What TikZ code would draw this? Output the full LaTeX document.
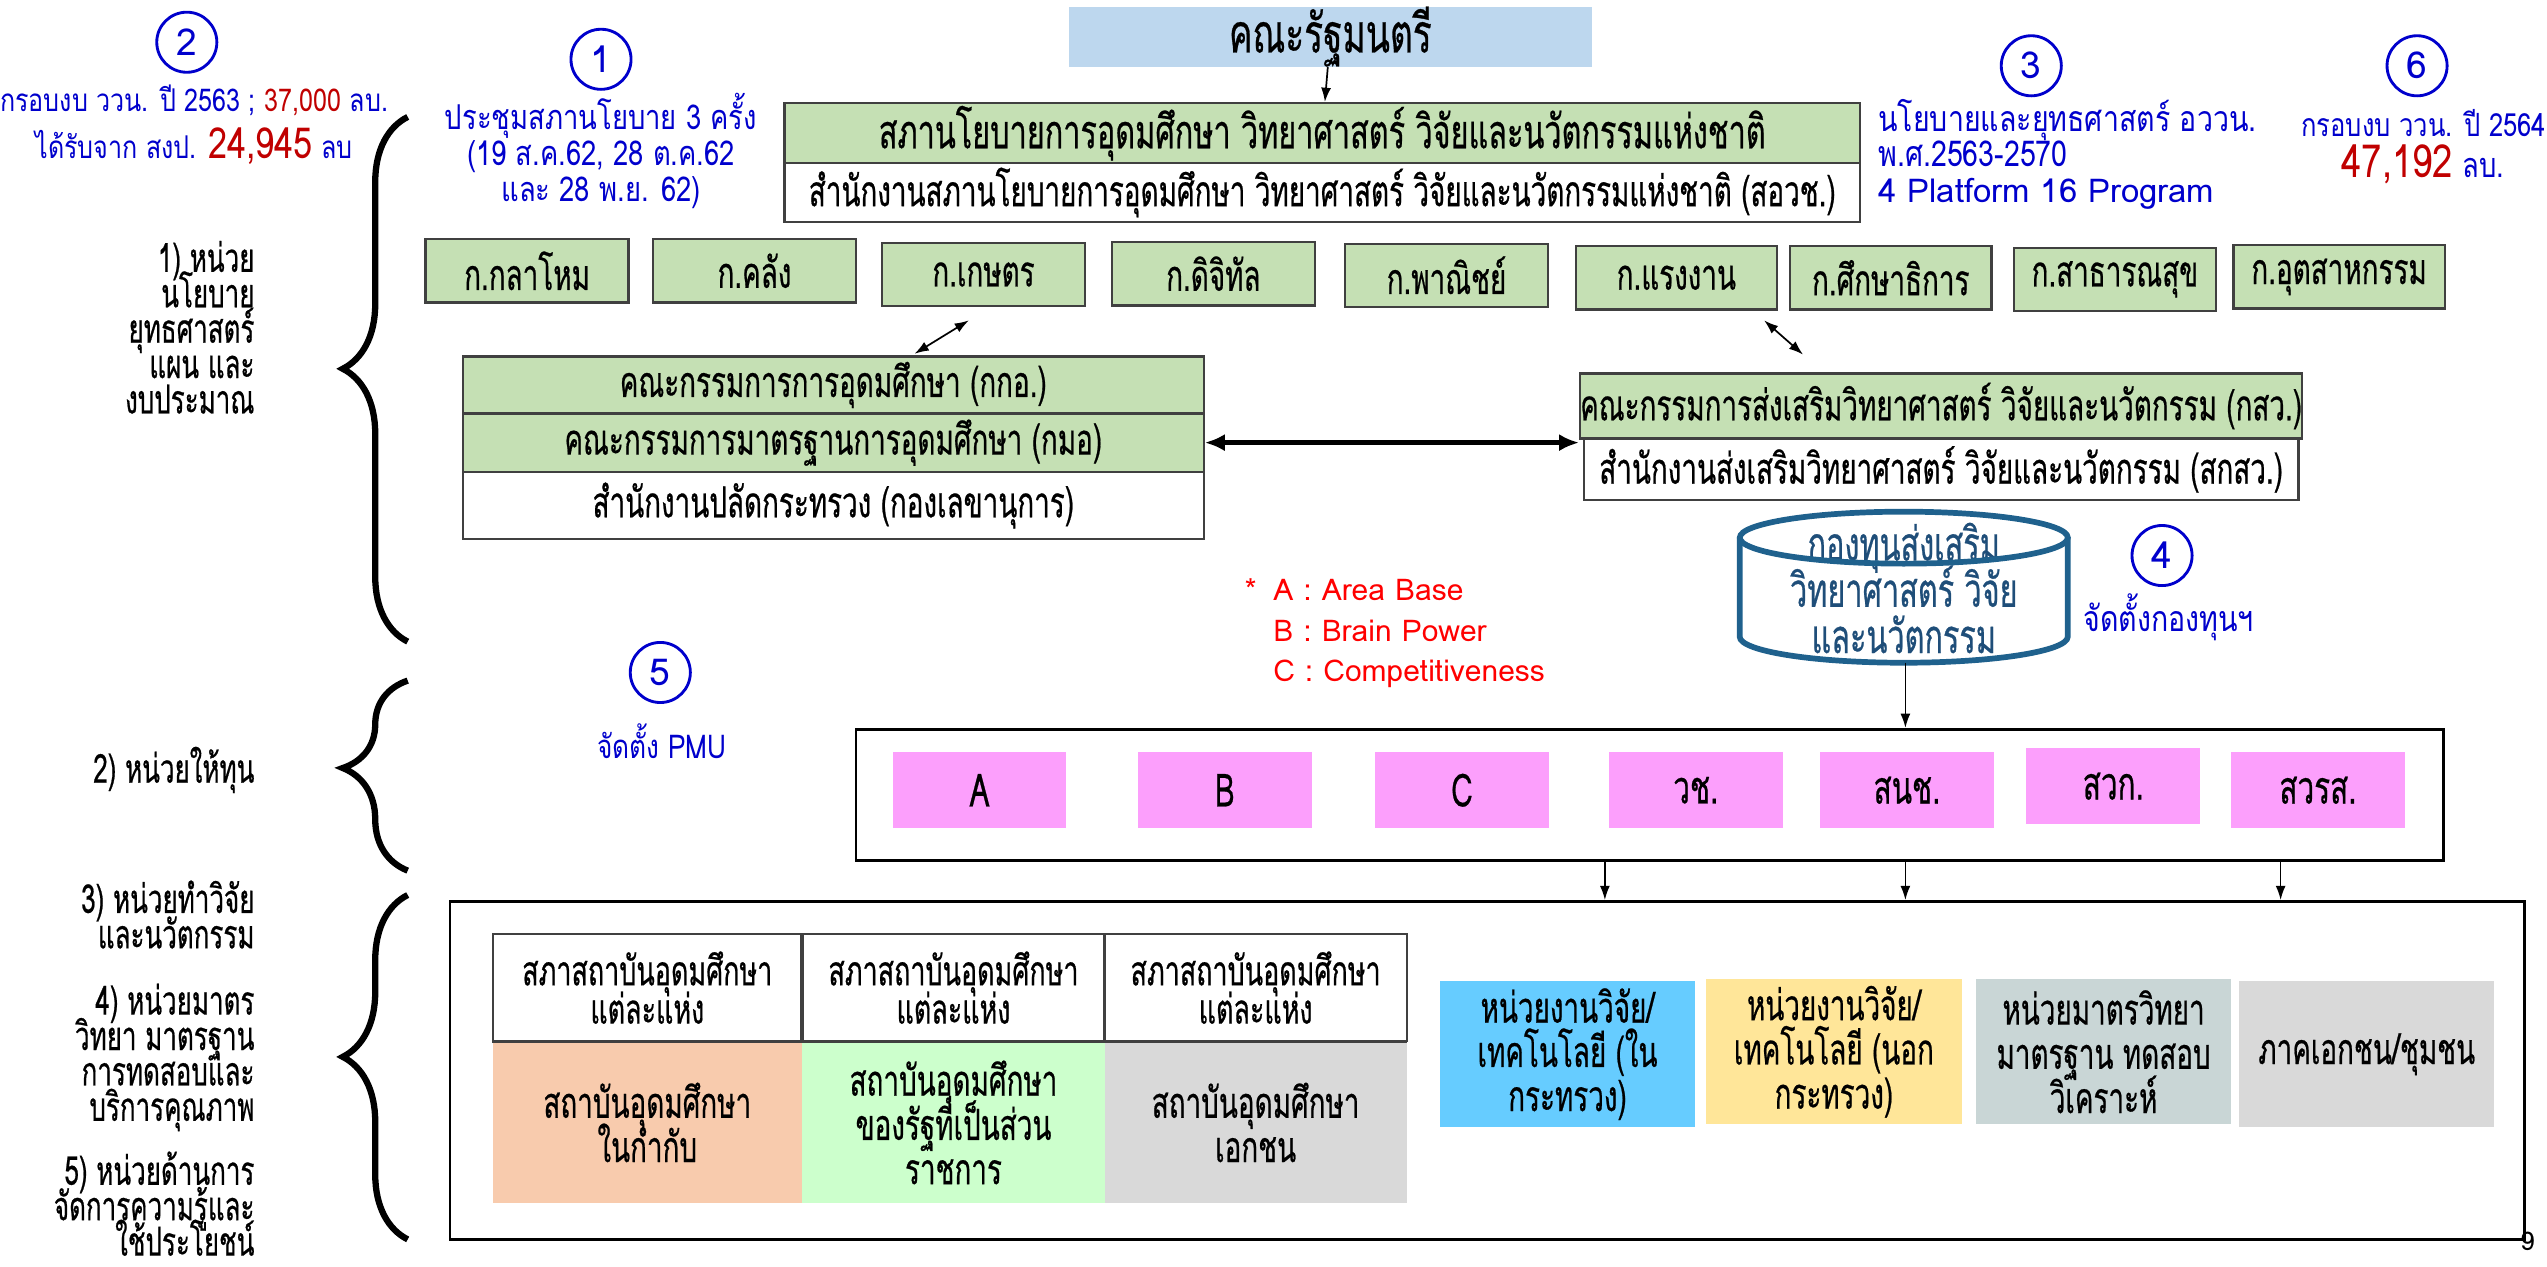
\documentclass[tikz,border=0pt]{standalone}
\usepackage{fontspec}
\setmainfont[Script=Thai]{Loma}
\newfontfamily\thaicond[Script=Thai, FakeStretch=0.65, FakeBold=0.5]{Loma}
\newfontfamily\thaimid[Script=Thai, FakeStretch=0.8]{Loma}
\usetikzlibrary{arrows.meta, decorations.pathreplacing}

\definecolor{cabblue}{RGB}{189,215,238}
\definecolor{boxgreen}{RGB}{197,224,180}
\definecolor{fundpink}{RGB}{252,159,252}
\definecolor{peach}{RGB}{248,203,173}
\definecolor{palegreen}{RGB}{204,255,204}
\definecolor{greybox}{RGB}{217,217,217}
\definecolor{skyblue}{RGB}{102,204,255}
\definecolor{sandyellow}{RGB}{255,230,153}
\definecolor{slategrey}{RGB}{201,214,214}
\definecolor{annblue}{RGB}{0,0,204}
\definecolor{numred}{RGB}{192,0,0}
\definecolor{cylblue}{RGB}{31,97,141}
\definecolor{cyltext}{RGB}{31,78,121}

\begin{document}
\lineskiplimit=-50pt
\begin{tikzpicture}[%
  x = 0.02cm, y = -0.02cm,
  > = {Latex[length = 5pt, width = 3.5pt]},
  dim/.style 2 args = {minimum width = #1*0.02cm, minimum height = #2*0.02cm},
  cell/.style = {inner sep = 0pt, align = center, font = \thaicond\fontsize{15}{15.5}\selectfont},
  greencell/.style = {cell, draw = black!75, line width = 0.8pt, fill = boxgreen},
  whitecell/.style = {cell, draw = black!75, line width = 0.8pt, fill = white},
  fillcell/.style = {cell, draw = none},
  pinkcell/.style = {fillcell, fill = fundpink, dim = {107}{47}, font = \thaicond\fontsize{16}{16}\selectfont},
  sidelabel/.style = {anchor = east, align = right, inner sep = 0pt, font = \thaicond\fontsize{14}{12.4}\selectfont},
  circnum/.style = {circle, draw = annblue, line width = 1pt, text = annblue, inner sep = 0pt,
    minimum size = 0.74cm, font = \fontsize{13}{13}\selectfont},
  ann/.style = {text = annblue, inner sep = 0pt, align = center, font = \thaimid\fontsize{11.5}{12.5}\selectfont},
  bigbrace/.style = {decorate, line width = 2.2pt,
    decoration = {brace, amplitude = 0.8cm, aspect = #1}},
  arrow/.style = {->, line width = 0.6pt}]

  \useasboundingbox (0, 0) rectangle (1568, 780);

  \node[fillcell, fill = cabblue, dim = {322}{33}, font = \thaicond\fontsize{19}{19}\selectfont] (cabinet) at (819, 22.5) {คณะรัฐมนตรี};
  \node[greencell, dim = {662}{37}, font = \thaicond\fontsize{16.5}{17}\selectfont] (council) at (814, 82) {สภานโยบายการอุดมศึกษา วิทยาศาสตร์ วิจัยและนวัตกรรมแห่งชาติ};
  \node[whitecell, dim = {662}{36}] (nxpo) at (814, 118.5) {สำนักงานสภานโยบายการอุดมศึกษา วิทยาศาสตร์ วิจัยและนวัตกรรมแห่งชาติ (สอวช.)};
  \draw[arrow] (cabinet) -- (council);

  \node[greencell, dim = {125}{39}] (defence) at (324.5, 166.7) {ก.กลาโหม};
  \node[greencell, dim = {125}{39}] (finance) at (464.5, 166.7) {ก.คลัง};
  \node[greencell, dim = {125}{39}] (agri) at (605.5, 169) {ก.เกษตร};
  \node[greencell, dim = {125}{39}] (digital) at (747, 168.5) {ก.ดิจิทัล};
  \node[greencell, dim = {125}{39}] (commerce) at (890.5, 169.5) {ก.พาณิชย์};
  \node[greencell, dim = {124}{39}] (labour) at (1032, 171) {ก.แรงงาน};
  \node[greencell, dim = {124}{39}] (education) at (1164, 171) {ก.ศึกษาธิการ};
  \node[greencell, dim = {124}{39}] (health) at (1302, 172) {ก.สาธารณสุข};
  \node[greencell, dim = {130}{39}] (industry) at (1440, 170.5) {ก.อุตสาหกรรม};

  \node[greencell, dim = {456}{35}] (ohec) at (513, 237) {คณะกรรมการการอุดมศึกษา (กกอ.)};
  \node[greencell, dim = {456}{36}] (hesc) at (513, 272.5) {คณะกรรมการมาตรฐานการอุดมศึกษา (กมอ)};
  \node[whitecell, dim = {456}{41.5}] (opsmhesi) at (513, 311.2) {สำนักงานปลัดกระทรวง (กองเลขานุการ)};
  \node[greencell, dim = {440}{40}] (tsrb) at (1195, 250) {คณะกรรมการส่งเสริมวิทยาศาสตร์ วิจัยและนวัตกรรม (กสว.)};
  \node[whitecell, dim = {440}{38}] (tsri) at (1195, 289) {สำนักงานส่งเสริมวิทยาศาสตร์ วิจัยและนวัตกรรม (สกสว.)};

  \draw[<->, line width = 1.6pt, > = {Latex[length = 7pt, width = 6pt]}] (hesc.east) -- (hesc.east -| tsrb.west);
  \draw[<->, line width = 0.6pt] ([shift = {(-9, 8)}]agri.south) -- ([shift = {(50, -1)}]ohec.north);
  \draw[<->, line width = 0.6pt] ([shift = {(54, 6)}]labour.south) -- ([shift = {(-85, -11)}]tsrb.north);

  \node[inner sep = 0pt, align = center, text = cyltext, font = \thaicond\fontsize{16.5}{16.2}\selectfont] (fund) at (1172, 362) {กองทุนส่งเสริม\\วิทยาศาสตร์ วิจัย\\และนวัตกรรม};
  \draw[cylblue, line width = 2pt] (1071, 331) -- (1071, 392) arc[start angle = 180, end angle = 360, x radius = 2.02cm, y radius = 0.32cm] -- (1273, 331);
  \draw[cylblue, line width = 2pt] (1172, 331) ellipse[x radius = 2.02cm, y radius = 0.32cm];
  \coordinate (fundbottom) at (1173, 408);

  \node[draw, line width = 1pt, dim = {977}{81}] (grant) at (1015.5, 489.5) {};
  \node[pinkcell] (areabase) at (603, 486.5) {A};
  \node[pinkcell] (brainpower) at (754, 486.5) {B};
  \node[pinkcell] (competitive) at (900, 486.5) {C};
  \node[pinkcell] (nrct) at (1044, 486.5) {วช.};
  \node[pinkcell] (nia) at (1174, 486.5) {สนช.};
  \node[pinkcell] (arda) at (1301, 484) {สวก.};
  \node[pinkcell] (hsri) at (1427, 486.5) {สวรส.};
  \draw[arrow] (fundbottom) -- (fundbottom |- grant.north);

  \node[draw, line width = 1pt, dim = {1277}{208}] (units) at (915.5, 659) {};
  \coordinate (grantout1) at (988, 530);
  \coordinate (grantout2) at (1173, 530);
  \coordinate (grantout3) at (1404, 530);
  \draw[arrow] (grantout1) -- (grantout1 |- units.north);
  \draw[arrow] (grantout2) -- (grantout2 |- units.north);
  \draw[arrow] (grantout3) -- (grantout3 |- units.north);

  \node[whitecell, dim = {190}{66}, font = \thaicond\fontsize{14.5}{13.4}\selectfont] (unicouncil1) at (398.5, 608) {สภาสถาบันอุดมศึกษา\\แต่ละแห่ง};
  \node[whitecell, dim = {186}{66}, font = \thaicond\fontsize{14.5}{13.4}\selectfont] (unicouncil2) at (587, 608) {สภาสถาบันอุดมศึกษา\\แต่ละแห่ง};
  \node[whitecell, dim = {186}{66}, font = \thaicond\fontsize{14.5}{13.4}\selectfont] (unicouncil3) at (773, 608) {สภาสถาบันอุดมศึกษา\\แต่ละแห่ง};
  \node[fillcell, fill = peach, dim = {190}{99}] (autonomous) at (398.5, 691) {สถาบันอุดมศึกษา\\ในกำกับ};
  \node[fillcell, fill = palegreen, dim = {186}{99}] (publicuni) at (587, 691) {สถาบันอุดมศึกษา\\ของรัฐที่เป็นส่วน\\ราชการ};
  \node[fillcell, fill = greybox, dim = {186}{99}] (privateuni) at (773, 691) {สถาบันอุดมศึกษา\\เอกชน};
  \draw[black!75, line width = 0.8pt] (autonomous.north west) -- (privateuni.north east);

  \node[fillcell, fill = skyblue, dim = {157}{90}] (inlab) at (965, 649) {หน่วยงานวิจัย/\\เทคโนโลยี (ใน\\กระทรวง)};
  \node[fillcell, fill = sandyellow, dim = {158}{89}] (outlab) at (1129, 647.5) {หน่วยงานวิจัย/\\เทคโนโลยี (นอก\\กระทรวง)};
  \node[fillcell, fill = slategrey, dim = {157}{89}] (metrology) at (1295, 647.5) {หน่วยมาตรวิทยา\\มาตรฐาน ทดสอบ\\วิเคราะห์};
  \node[fillcell, fill = greybox, dim = {157}{90}] (privsector) at (1457, 649) {ภาคเอกชน/ชุมชน};

  \draw[bigbrace = 0.52] (251, 395) -- (251, 72);
  \draw[bigbrace = 0.54] (251, 536) -- (251, 419);
  \draw[bigbrace = 0.53] (251, 763) -- (251, 551);

  \node[sidelabel] (policy) at (157, 201.5) {1) หน่วย\\นโยบาย\\ยุทธศาสตร์\\แผน และ\\งบประมาณ};
  \node[sidelabel] (funding) at (157, 474) {2) หน่วยให้ทุน};
  \node[sidelabel] (research) at (157, 563) {3) หน่วยทำวิจัย\\และนวัตกรรม};
  \node[sidelabel] (quality) at (157, 651) {4) หน่วยมาตร\\วิทยา มาตรฐาน\\การทดสอบและ\\บริการคุณภาพ};
  \node[sidelabel] (knowledge) at (157, 741) {5) หน่วยด้านการ\\จัดการความรู้และ\\ใช้ประโยชน์};

  \node[circnum] (num2) at (115, 26) {2};
  \node[ann, font = \thaimid\fontsize{11}{13}\selectfont] (budget63) at (119.5, 62) {กรอบงบ ววน. ปี 2563 ; \textcolor{numred}{37,000} ลบ.};
  \node[ann, font = \thaimid\fontsize{11}{13}\selectfont] (received) at (119.5, 90) {ได้รับจาก สงป. {\color{numred}\fontsize{15}{15}\selectfont 24,945} ลบ};
  \node[circnum] (num1) at (370, 36.5) {1};
  \node[ann, font = \thaimid\fontsize{12}{12.5}\selectfont] (meeting) at (370, 93) {ประชุมสภานโยบาย 3 ครั้ง\\(19 ส.ค.62, 28 ต.ค.62\\และ 28 พ.ย. 62)};
  \node[circnum] (num3) at (1250.5, 40.5) {3};
  \node[ann, anchor = west, align = left, font = \thaimid\fontsize{12.5}{12.5}\selectfont] (strategy) at (1156, 95) {นโยบายและยุทธศาสตร์ อววน.\\พ.ศ.2563-2570\\{\normalfont\fontsize{11.5}{12.5}\selectfont 4 Platform 16 Program}};
  \node[circnum] (num6) at (1488, 40.5) {6};
  \node[ann, font = \thaimid\fontsize{11.2}{12.5}\selectfont] (budget64) at (1492, 76) {กรอบงบ ววน. ปี 2564};
  \node[ann, font = \thaimid\fontsize{12}{12.5}\selectfont] (amount64) at (1491.5, 101) {{\color{numred}\fontsize{16}{16}\selectfont 47,192} ลบ.};
  \node[circnum] (num4) at (1331, 342) {4};
  \node[ann, font = \thaimid\fontsize{12.5}{13}\selectfont] (setfund) at (1335, 380) {จัดตั้งกองทุนฯ};
  \node[circnum] (num5) at (406.5, 414) {5};
  \node[ann] (setpmu) at (407.5, 456) {จัดตั้ง PMU};

  \node[anchor = west, align = left, inner sep = 0pt, text = red, font = \fontsize{10.5}{14.2}\selectfont] (legend) at (766, 390) {\makebox[0.35cm][l]{*}A : Area Base\\\hspace*{0.35cm}B : Brain Power\\\hspace*{0.35cm}C : Competitiveness};

  \node[inner sep = 0pt, font = \fontsize{9}{9}\selectfont] (pagenum) at (1556, 764) {9};
\end{tikzpicture}
\end{document}
